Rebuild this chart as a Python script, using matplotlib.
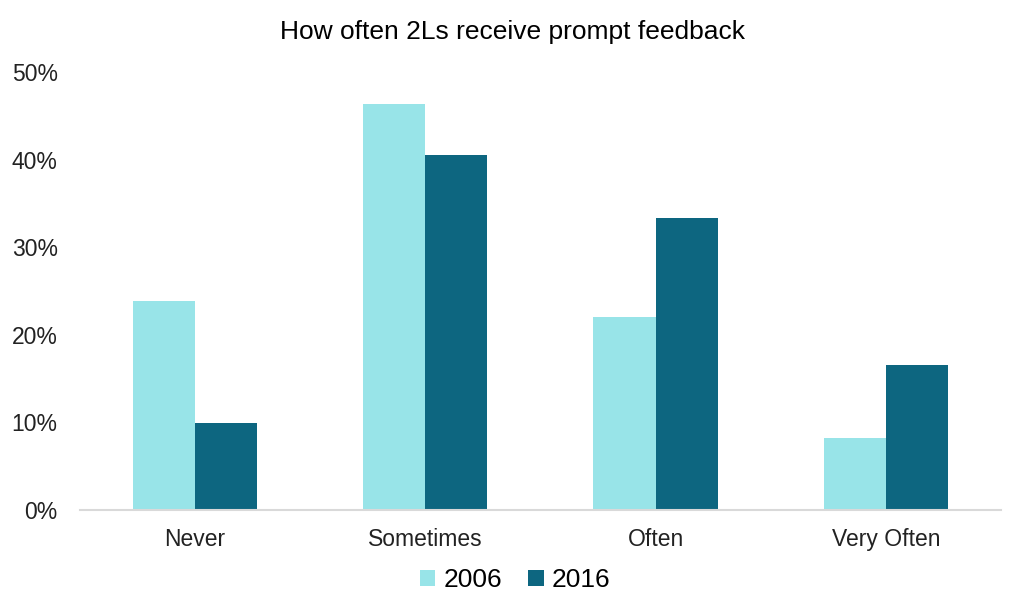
import numpy as np
import matplotlib.pyplot as plt
from matplotlib.ticker import PercentFormatter

plt.rcParams['font.family'] = ['Liberation Sans', 'DejaVu Sans']

categories = ['Never', 'Sometimes', 'Often', 'Very Often']
years = ['2006', '2016']
vals_2006 = [23.9, 46.3, 22.0, 8.2]
vals_2016 = [9.9, 40.5, 33.3, 16.6]
colors = ['#98E4E8', '#0D6680']

fig = plt.figure(figsize=(10.24, 6.14), dpi=100)
ax = fig.add_axes([0.078, 0.1694, 0.8995, 0.7133])

x = np.arange(len(categories))
w = 0.27
ax.bar(x - w / 2, vals_2006, w, color=colors[0], label=years[0])
ax.bar(x + w / 2, vals_2016, w, color=colors[1], label=years[1])

ax.set_xlim(-0.5, len(categories) - 0.5)
ax.set_ylim(0, 50)
ax.set_yticks(np.arange(0, 51, 10))
ax.yaxis.set_major_formatter(PercentFormatter(decimals=0))
ax.set_xticks(x)
ax.set_xticklabels(categories)
ax.tick_params(axis='both', length=0, labelsize=16.5, colors='#222222')
ax.tick_params(axis='y', pad=16)
ax.tick_params(axis='x', pad=13)

for s in ['top', 'right', 'left']:
    ax.spines[s].set_visible(False)
ax.spines['bottom'].set_color('#D9D9D9')
ax.spines['bottom'].set_linewidth(1.5)

fig.suptitle('How often 2Ls receive prompt feedback', fontsize=19,
             x=0.5, y=0.948, va='center')

fig.legend(loc='center', bbox_to_anchor=(0.503, 0.055), ncol=2, frameon=False,
           fontsize=19, handlelength=0.6, handleheight=0.6, handletextpad=0.3,
           columnspacing=1.0)

fig.savefig('out.png', dpi=100)
